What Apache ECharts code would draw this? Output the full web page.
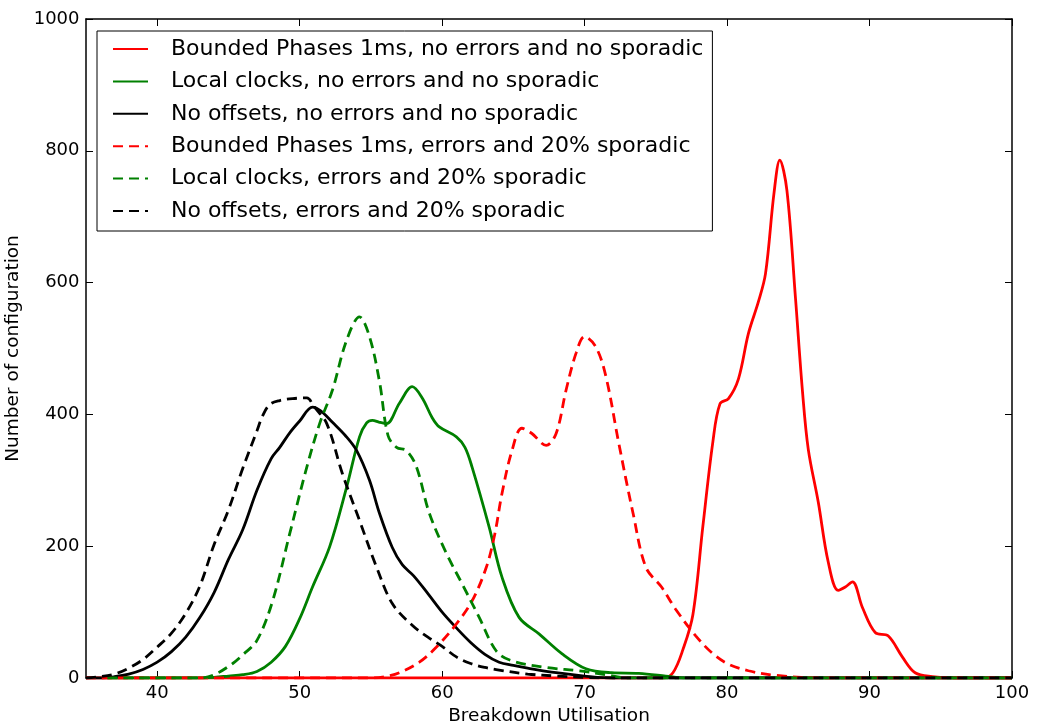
<!DOCTYPE html>
<html>
<head>
<meta charset="utf-8">
<script src="https://cdn.jsdelivr.net/npm/echarts@6/dist/echarts.min.js"></script>
<style>html,body{margin:0;padding:0;background:#fff;}#c{width:1039px;height:725px;}</style>
</head>
<body>
<div id="c"></div>
<script>
// ---- data ----
const xTicks = [40, 50, 60, 70, 80, 90, 100];
const yTicks = [0, 200, 400, 600, 800, 1000];

const names = [
  'Bounded Phases 1ms, no errors and no sporadic',
  'Local clocks, no errors and no sporadic',
  'No offsets, no errors and no sporadic',
  'Bounded Phases 1ms, errors and 20% sporadic',
  'Local clocks, errors and 20% sporadic',
  'No offsets, errors and 20% sporadic'
];

const bpNoErrX = [35, 60, 74, 75.5, 76.2, 76.9, 77.6, 78.3, 79, 79.5, 80.1, 80.8, 81.5, 82.2, 82.7, 83.3, 83.7, 84.2, 84.8, 85.3, 85.7, 86.4, 87.1, 87.8, 88.3, 88.8, 89.5, 90.4, 91.3, 92.3, 93.2, 94.4, 96, 100];
const bpNoErrY = [0, 0, 0, 0, 8, 43, 96, 230, 358, 416, 424, 454, 523, 571, 614, 737, 786, 740, 577, 433, 347, 267, 176, 133, 138, 146, 107, 69, 64, 32, 8, 2, 0, 0];

const lcNoErrX = [36.5, 43, 44, 45, 46, 47, 48, 49, 50, 50.9, 52.1, 53.3, 54.2, 54.7, 55.1, 55.6, 56.1, 57, 57.9, 58.6, 59.3, 59.8, 61, 61.6, 62.1, 63.3, 64.2, 65.4, 66.8, 68.4, 70.1, 71.9, 73.8, 75.7, 77, 100];
const lcNoErrY = [0, 0, 1, 3, 5, 10, 24, 48, 90, 138, 199, 290, 366, 387, 391, 388, 386, 417, 442, 425, 395, 381, 366, 350, 320, 229, 153, 92, 67, 37, 14, 8, 7, 3, 0, 0];

const noOffNoErrX = [35, 36, 37, 38, 39, 40, 41, 42, 43, 44, 45, 46, 47, 48, 48.6, 49.3, 50, 50.9, 51.5, 52.3, 53.2, 54, 54.9, 55.6, 56.5, 57.2, 58, 59, 60, 61, 62, 63, 64, 65, 66, 68, 70, 72, 100];
const noOffNoErrY = [0, 0, 2, 6, 13, 24, 40, 62, 92, 130, 180, 225, 285, 333, 350, 372, 390, 411, 405, 388, 368, 345, 300, 250, 198, 172, 155, 128, 100, 76, 54, 36, 24, 19, 15, 8, 3, 0, 0];

const bpErrX = [35, 50, 55, 56, 57, 58.4, 59.6, 61, 62.1, 63.1, 63.7, 64.2, 64.9, 65.6, 66.3, 67.3, 68, 68.7, 69.4, 70, 70.8, 71.5, 72.4, 73.4, 74.3, 75.4, 76.4, 77.8, 79, 80.1, 81.5, 83.4, 87, 100];
const bpErrY = [0, 0, 0, 2, 8, 24, 47, 82, 117, 168, 219, 280, 345, 379, 371, 353, 371, 437, 493, 518, 502, 457, 356, 250, 168, 138, 104, 64, 37, 21, 11, 4, 0, 0];

const lcErrX = [36.5, 43, 44, 45.3, 46, 47, 48.1, 49.3, 50.5, 51.4, 52.3, 53.3, 54.2, 54.9, 55.6, 56.2, 56.8, 57.5, 58.2, 59.1, 60.3, 61.4, 62.6, 63.8, 64.9, 67.3, 69.6, 71.5, 73, 100];
const lcErrY = [0, 0, 5, 22, 35, 57, 117, 219, 320, 386, 437, 513, 548, 518, 450, 368, 350, 345, 320, 250, 189, 143, 92, 41, 26, 16, 11, 5, 0, 0];

const noOffErrX = [35, 36, 37, 38, 39, 40, 41, 42, 43, 44, 45, 46, 47, 47.4, 47.9, 48.6, 49.5, 50.5, 51, 51.9, 53, 54.2, 55.4, 56.5, 57.9, 59, 60, 61, 62, 63, 64, 66, 68, 70, 72, 100];
const noOffErrY = [0, 2, 6, 15, 28, 47, 68, 98, 140, 203, 255, 318, 375, 398, 415, 421, 424, 425, 412, 386, 310, 239, 168, 113, 80, 62, 48, 32, 22, 16, 12, 6, 3, 1, 0, 0];

// ---- chart ----
const zip = (xs, ys) => xs.map((x, i) => [x, ys[i]]);
const RED = '#ff0000', GREEN = '#008000', BLACK = '#000000';
const FONT = 'DejaVu Sans';

function line(name, xs, ys, color, dashed) {
  return {
    name: name,
    type: 'line',
    data: zip(xs, ys),
    smooth: 0.35,
    symbol: 'none',
    showSymbol: false,
    clip: true,
    lineStyle: { color: color, width: 2.8, type: dashed ? [10, 6] : 'solid' },
    itemStyle: { color: color },
    animation: false
  };
}

const chart = echarts.init(document.getElementById('c'), null, { renderer: 'canvas' });
chart.setOption({
  backgroundColor: '#ffffff',
  animation: false,
  grid: { left: 86, right: 27, top: 19, bottom: 47, containLabel: false, outerBoundsMode: 'none' },
  legend: {
    orient: 'vertical',
    left: 97,
    top: 31,
    backgroundColor: '#ffffff',
    borderColor: '#000000',
    borderWidth: 1,
    borderRadius: 0,
    padding: [7, 9, 9, 15],
    itemWidth: 35,
    itemHeight: 20,
    itemGap: 10.4,
    itemStyle: { opacity: 0, color: 'rgba(0,0,0,0)', borderWidth: 0 },
    textStyle: { fontFamily: FONT, fontSize: 22, color: '#000', padding: [0, 0, 0, 18] },
    data: names
  },
  xAxis: [
    {
      type: 'value', min: 35, max: 100, position: 'bottom',
      name: 'Breakdown Utilisation', nameLocation: 'middle', nameGap: 27,
      nameTextStyle: { fontFamily: FONT, fontSize: 18.5, color: '#000' },
      axisLine: { show: true, onZero: false, lineStyle: { color: '#000', width: 1.5 } },
      axisTick: { show: true, inside: true, length: 7, customValues: xTicks, lineStyle: { color: '#000', width: 1 } },
      axisLabel: { show: true, customValues: xTicks, margin: 6, fontFamily: FONT, fontSize: 18, color: '#000', formatter: v => String(v) },
      splitLine: { show: false }
    },
    {
      type: 'value', min: 35, max: 100, position: 'top',
      axisLine: { show: true, onZero: false, lineStyle: { color: '#000', width: 1.5 } },
      axisTick: { show: true, inside: true, length: 7, customValues: xTicks, lineStyle: { color: '#000', width: 1 } },
      axisLabel: { show: false },
      splitLine: { show: false }
    }
  ],
  yAxis: [
    {
      type: 'value', min: 0, max: 1000, interval: 200, position: 'left',
      name: 'Number of configuration', nameLocation: 'middle', nameGap: 51,
      nameTextStyle: { fontFamily: FONT, fontSize: 18.5, color: '#000' },
      axisLine: { show: true, onZero: false, lineStyle: { color: '#000', width: 1.5 } },
      axisTick: { show: true, inside: true, length: 7, customValues: yTicks, lineStyle: { color: '#000', width: 1 } },
      axisLabel: { show: true, customValues: yTicks, margin: 6.5, fontFamily: FONT, fontSize: 18, color: '#000', formatter: v => String(v) },
      splitLine: { show: false }
    },
    {
      type: 'value', min: 0, max: 1000, interval: 200, position: 'right',
      axisLine: { show: true, onZero: false, lineStyle: { color: '#000', width: 1.5 } },
      axisTick: { show: true, inside: true, length: 7, customValues: yTicks, lineStyle: { color: '#000', width: 1 } },
      axisLabel: { show: false },
      splitLine: { show: false }
    }
  ],
  series: [
    line(names[0], bpNoErrX, bpNoErrY, RED, false),
    line(names[1], lcNoErrX, lcNoErrY, GREEN, false),
    line(names[2], noOffNoErrX, noOffNoErrY, BLACK, false),
    line(names[3], bpErrX, bpErrY, RED, true),
    line(names[4], lcErrX, lcErrY, GREEN, true),
    line(names[5], noOffErrX, noOffErrY, BLACK, true)
  ]
});
</script>
</body>
</html>
